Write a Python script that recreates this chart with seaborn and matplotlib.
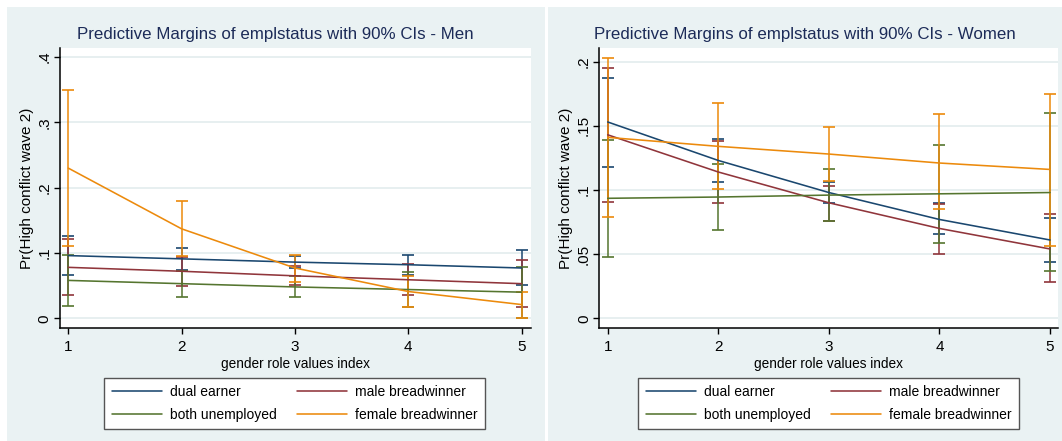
import numpy as np
import pandas as pd
import matplotlib
matplotlib.use("Agg")
import matplotlib.pyplot as plt
import seaborn as sns
from matplotlib.patches import Rectangle
from matplotlib.lines import Line2D

# ---------------- data ----------------
x_vals = [1, 2, 3, 4, 5]
groups = ["dual earner", "male breadwinner", "both unemployed", "female breadwinner"]

# Men
men_dual = [0.096, 0.091, 0.086, 0.082, 0.077]
men_dual_lo = [0.066, 0.074, 0.077, 0.067, 0.051]
men_dual_hi = [0.126, 0.107, 0.096, 0.097, 0.104]
men_male = [0.078, 0.072, 0.065, 0.059, 0.053]
men_male_lo = [0.036, 0.049, 0.051, 0.035, 0.017]
men_male_hi = [0.121, 0.094, 0.080, 0.083, 0.089]
men_both = [0.058, 0.053, 0.048, 0.044, 0.040]
men_both_lo = [0.019, 0.033, 0.032, 0.017, 0.001]
men_both_hi = [0.097, 0.073, 0.064, 0.071, 0.079]
men_female = [0.230, 0.137, 0.077, 0.041, 0.021]
men_female_lo = [0.111, 0.095, 0.056, 0.017, 0.000]
men_female_hi = [0.349, 0.179, 0.097, 0.065, 0.041]

# Women
wom_dual = [0.153, 0.123, 0.098, 0.077, 0.061]
wom_dual_lo = [0.118, 0.106, 0.090, 0.066, 0.044]
wom_dual_hi = [0.187, 0.140, 0.106, 0.090, 0.078]
wom_male = [0.143, 0.114, 0.090, 0.070, 0.054]
wom_male_lo = [0.091, 0.090, 0.076, 0.050, 0.028]
wom_male_hi = [0.195, 0.138, 0.103, 0.089, 0.081]
wom_both = [0.0935, 0.0945, 0.096, 0.097, 0.098]
wom_both_lo = [0.048, 0.069, 0.076, 0.059, 0.037]
wom_both_hi = [0.139, 0.120, 0.116, 0.135, 0.160]
wom_female = [0.141, 0.134, 0.128, 0.121, 0.116]
wom_female_lo = [0.079, 0.101, 0.107, 0.085, 0.056]
wom_female_hi = [0.203, 0.168, 0.149, 0.159, 0.175]

men_yticks = [0, 0.1, 0.2, 0.3, 0.4]
men_ylabels = ["0", ".1", ".2", ".3", ".4"]
wom_yticks = [0, 0.05, 0.1, 0.15, 0.2]
wom_ylabels = ["0", ".05", ".1", ".15", ".2"]
x_ticklabels = ["1", "2", "3", "4", "5"]

title_men = "Predictive Margins of emplstatus with 90% CIs - Men"
title_wom = "Predictive Margins of emplstatus with 90% CIs - Women"
xlabel = "gender role values index"
ylabel = "Pr(High conflict wave 2)"

# ---------------- style ----------------
colors = {"dual earner": "#1A476F", "male breadwinner": "#90353B",
          "both unemployed": "#55752F", "female breadwinner": "#EC8A0C"}
BG = "#EAF2F3"
GRID = "#E3ECEE"
TITLE_C = "#1C2B58"

sns.set_theme(style="white")
plt.rcParams['font.family'] = ['Liberation Sans', 'DejaVu Sans']

W, H = 1062, 441
fig = plt.figure(figsize=(W / 100, H / 100), dpi=100)
fig.patch.set_facecolor("white")


def fx(px):
    return px / W


def fy(py):
    return 1 - py / H


fig.patches.append(Rectangle((fx(7), 0), fx(545) - fx(7), fy(7), transform=fig.transFigure,
                             facecolor=BG, edgecolor="none", zorder=-10))
fig.patches.append(Rectangle((fx(548), 0), 1 - fx(548), fy(7), transform=fig.transFigure,
                             facecolor=BG, edgecolor="none", zorder=-10))


def make_df(d):
    rows = []
    for g in groups:
        mid, lo, hi = d[g]
        for xv, m, l, h in zip(x_vals, mid, lo, hi):
            rows.append({"x": xv, "value": m, "lo": l, "hi": h, "status": g})
    return pd.DataFrame(rows)


men_df = make_df({
    "dual earner": (men_dual, men_dual_lo, men_dual_hi),
    "male breadwinner": (men_male, men_male_lo, men_male_hi),
    "both unemployed": (men_both, men_both_lo, men_both_hi),
    "female breadwinner": (men_female, men_female_lo, men_female_hi),
})
wom_df = make_df({
    "dual earner": (wom_dual, wom_dual_lo, wom_dual_hi),
    "male breadwinner": (wom_male, wom_male_lo, wom_male_hi),
    "both unemployed": (wom_both, wom_both_lo, wom_both_hi),
    "female breadwinner": (wom_female, wom_female_lo, wom_female_hi),
})

FS_LEG = 10.0
FS_XLAB = 9.8
FS_TICK = 11.0
FS_YLAB = 11.0


def draw_panel(ax, df, yticks, ylabels, xlim, ylim, title, title_x, leg_x):
    ax.set_facecolor("white")
    for g in groups:
        sub = df[df.status == g]
        ax.errorbar(sub["x"], sub["value"],
                    yerr=[sub["value"] - sub["lo"], sub["hi"] - sub["value"]],
                    fmt="none", ecolor=colors[g], elinewidth=1.1, capsize=4.3,
                    capthick=1.2, zorder=2)
    sns.lineplot(data=df, x="x", y="value", hue="status", hue_order=groups,
                 palette=colors, legend=False, linewidth=1.15, ax=ax, zorder=3,
                 estimator=None, sort=True)
    ax.set_xlim(*xlim)
    ax.set_ylim(*ylim)
    ax.set_xticks(x_vals)
    ax.set_xticklabels(x_ticklabels)
    ax.set_yticks(yticks)
    ax.set_yticklabels(ylabels)
    ax.yaxis.grid(True, color=GRID, linewidth=1.2)
    ax.xaxis.grid(False)
    ax.set_axisbelow(True)
    for s in ["top", "right"]:
        ax.spines[s].set_visible(False)
    for s in ["left", "bottom"]:
        ax.spines[s].set_color("black")
        ax.spines[s].set_linewidth(1.1)
    ax.tick_params(axis="both", which="major", bottom=True, left=True,
                   direction="out", length=4.5, width=1.0, color="black",
                   labelsize=FS_TICK, labelcolor="black")
    ax.tick_params(axis="x", pad=4.2)
    ax.tick_params(axis="y", pad=1.5)
    for lab in ax.get_yticklabels():
        lab.set_rotation(90)
        lab.set_va("center")
    ax.set_xlabel(xlabel, fontsize=FS_XLAB, color="black", labelpad=2)
    ax.set_ylabel(ylabel, fontsize=FS_YLAB, color="black", labelpad=3)
    fig.text(title_x, fy(39), title, ha="center", va="baseline",
             fontsize=12.2, color=TITLE_C)
    handles = [Line2D([0], [0], color=colors[g], lw=1.15) for g in groups]
    order = [0, 2, 1, 3]
    leg = ax.legend([handles[i] for i in order], [groups[i] for i in order],
                    ncol=2, loc="center", bbox_to_anchor=(leg_x, fy(403.5)),
                    bbox_transform=fig.transFigure, frameon=True, fancybox=False,
                    edgecolor="#555555", facecolor="white", framealpha=1,
                    fontsize=FS_LEG, handlelength=3.6, handletextpad=0.6,
                    columnspacing=1.45, borderpad=0.54, labelspacing=0.62)
    leg.get_frame().set_linewidth(1.0)
    for t in leg.get_texts():
        t.set_color("black")


ax1 = fig.add_axes([fx(60), fy(328), fx(530.5) - fx(60), fy(47.7) - fy(328)])
draw_panel(ax1, men_df, men_yticks, men_ylabels, (0.927, 5.079), (-0.0149, 0.4144),
           title_men, fx(275.5), fx(294.8))

ax2 = fig.add_axes([fx(599.3), fy(328), fx(1058) - fx(599.3), fy(47.7) - fy(328)])
draw_panel(ax2, wom_df, wom_yticks, wom_ylabels, (0.924, 5.072), (-0.0076, 0.2109),
           title_wom, fx(805), fx(828.8))

fig.savefig("out.png", dpi=100, facecolor="white")
